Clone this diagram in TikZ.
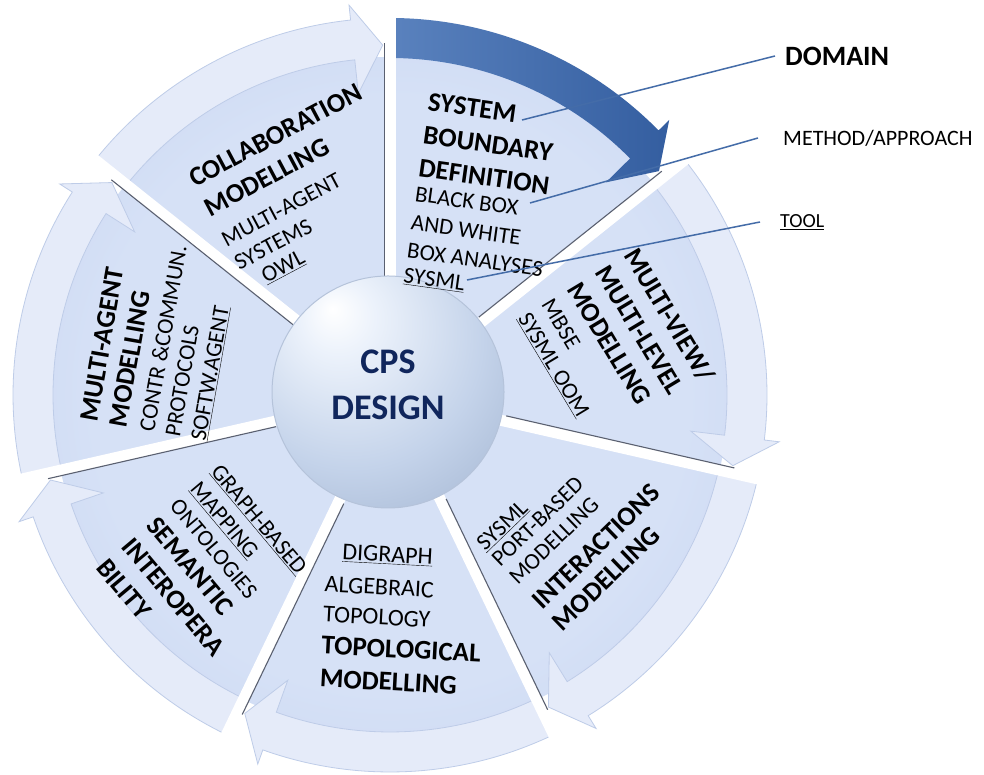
\documentclass[tikz,border=0pt]{standalone}
\usepackage{fontspec}
\setmainfont{Carlito}
\usetikzlibrary{calc}
\definecolor{wedgeA}{RGB}{214,225,246}
\definecolor{wedgeB}{RGB}{192,208,240}
\definecolor{wedgeC}{RGB}{174,193,234}
\definecolor{bandcol}{RGB}{229,235,249}
\definecolor{bandedge}{RGB}{190,204,232}
\definecolor{darkA}{RGB}{90,130,190}
\definecolor{darkB}{RGB}{52,94,160}
\definecolor{navy}{RGB}{16,38,92}
\definecolor{leader}{RGB}{68,108,168}
\definecolor{gapshadow}{RGB}{90,96,112}
\definecolor{sphA}{RGB}{236,242,251}
\definecolor{sphB}{RGB}{196,211,234}
\definecolor{sphC}{RGB}{162,180,208}
\definecolor{sphD}{RGB}{112,126,152}
\definecolor{sphE}{RGB}{78,90,116}
\pgfdeclareradialshading{wheelsh}{\pgfpoint{0bp}{0bp}}{color(0bp)=(wedgeA); color(22bp)=(wedgeA); color(40bp)=(wedgeB); color(50bp)=(wedgeC)}
\pgfdeclareradialshading{spheresh}{\pgfpoint{-12bp}{18bp}}{color(0bp)=(white); color(8bp)=(sphA); color(28bp)=(sphB); color(46bp)=(sphC); color(62bp)=(sphD); color(78bp)=(sphE)}
\tikzset{
  bd/.style={anchor=base west, inner sep=0pt, font=\fontsize{27}{32}\selectfont\bfseries},
  rg/.style={anchor=base west, inner sep=0pt, font=\fontsize{23}{28}\selectfont},
  rgl/.style={anchor=base west, inner sep=0pt, font=\fontsize{24}{29}\selectfont},
  bandpath/.style={fill=bandcol, draw=bandedge, line width=0.8},
  gapbar/.style={fill=white},
  shadowline/.style={draw=gapshadow, line width=1.1},
  leaderline/.style={draw=leader, line width=1.5}
}
\begin{document}
\begin{tikzpicture}[x=1pt,y=1pt]
\useasboundingbox (0,0) rectangle (984,775);
\fill[white] (0,0) rectangle (984,775);

% ---- wheel ----
\begin{scope}[shift={(390,380)}]
  \shade[shading=wheelsh] (0,0) circle[radius=338];
  \foreach \k in {0,2,3,4,5,6}{
    \pgfmathsetmacro\A{141.4286-51.4286*\k}
    \pgfmathsetmacro\B{\A-51.4286}
    \pgfmathsetmacro\Hb{\B+6}
    \pgfmathsetmacro\Ht{\B+1.2}
    \path[bandpath] (\A:337) -- (\A:377) arc[start angle=\A, end angle=\Hb, radius=377]
      -- (\Hb:392) -- (\Ht:350) -- (\Hb:303) -- (\Hb:337)
      arc[start angle=\Hb, end angle=\A, radius=337] -- cycle;
  }
  % highlighted arrow (system boundary)
  \shade[left color=darkA, right color=darkB] (90:337) -- (90:377)
      arc[start angle=90, end angle=44.5714, radius=377]
      -- (44.5714:392) -- (39.7714:350) -- (44.5714:303) -- (44.5714:337)
      arc[start angle=44.5714, end angle=90, radius=337] -- cycle;
\end{scope}

% gaps between wedges
\foreach \b in {90,38.5714,-12.8571,-64.2857,-115.7143,-167.1429,141.4286}{
  \begin{scope}[shift={(390,380)}, rotate=\b]
    \path[gapbar] (0,-5.5) rectangle (402,5.5);
    \path[shadowline] (118,5.5) -- (352,5.5);
  \end{scope}
}

% ---- central sphere ----
\shade[shading=spheresh] (388,383) circle[radius=116];
\draw[sphC!80!white, line width=1] (388,383) circle[radius=116];
\node[font=\fontsize{36}{46}\selectfont\bfseries, text=navy, align=center, inner sep=0pt] (cps) at (388,390) {CPS\\DESIGN};

% ---- collaboration ----
\begin{scope}[shift={(195,587)}, rotate=28, transform shape]
  \node[bd] (co1) at (0,0) {COLLABORATION};
  \node[bd] (co2) at (0,-33) {MODELLING};
  \node[rg] (co3) at (0,-67) {MULTI-AGENT};
  \node[rg] (co4) at (0,-94) {SYSTEMS};
  \node[rg] (co5) at (18,-118) {\underline{OWL}};
\end{scope}

% ---- system boundary ----
\begin{scope}[shift={(427,665)}, rotate=-8, transform shape]
  \node[bd] (sb1) at (0,0) {SYSTEM};
  \node[bd] (sb2) at (0,-34) {BOUNDARY};
  \node[bd] (sb3) at (0,-67) {DEFINITION};
  \node[rg] (sb4) at (0,-92) {BLACK BOX};
  \node[rg] (sb5) at (0,-121) {AND WHITE};
  \node[rg] (sb6) at (0,-149) {BOX ANALYSES};
  \node[rg] (sb7) at (0,-174) {\underline{SYSML}};
\end{scope}

% ---- multi-view ----
\begin{scope}[shift={(623,520)}, rotate=-59, transform shape]
  \node[bd] (mv1) at (0,0) {MULTI-VIEW/};
  \node[bd] (mv2) at (0,-33) {MULTI-LEVEL};
  \node[bd] (mv3) at (0,-66) {MODELLING};
  \node[rg] (mv4) at (0,-96) {MBSE};
  \node[rg] (mv5) at (0,-123) {\underline{SYSML OOM}};
\end{scope}

% ---- interactions ----
\begin{scope}[shift={(485,223)}, rotate=44, transform shape]
  \node[rg] (in1) at (0,0) {\underline{SYSML}};
  \node[rg] (in2) at (0,-22) {PORT-BASED};
  \node[rg] (in3) at (0,-47) {MODELLING};
  \node[bd] (in4) at (0,-82) {INTERACTIONS};
  \node[bd] (in5) at (0,-112) {MODELLING};
\end{scope}

% ---- topological ----
\begin{scope}[shift={(326,216)}, rotate=-3, transform shape]
  \node[rgl] (tp1) at (16,0) {\underline{DIGRAPH}};
  \node[rgl] (tp2) at (0,-33) {ALGEBRAIC};
  \node[rgl] (tp3) at (0,-63) {TOPOLOGY};
  \node[bd] (tp4) at (0,-95) {TOPOLOGICAL};
  \node[bd] (tp5) at (0,-128) {MODELLING};
\end{scope}

% ---- semantic interoperability ----
\begin{scope}[shift={(210,303)}, rotate=-50, transform shape]
  \node[rg] (se1) at (0,0) {\underline{GRAPH-BASED}};
  \node[rg] (se2) at (0,-27) {\underline{MAPPING}};
  \node[rg] (se3) at (0,-54) {ONTOLOGIES};
  \node[bd] (se4) at (0,-84) {SEMANTIC};
  \node[bd] (se5) at (0,-117) {INTEROPERA};
  \node[bd] (se6) at (0,-150) {BILITY};
\end{scope}

% ---- multi-agent ----
\begin{scope}[shift={(97,352)}, rotate=80, transform shape]
  \node[bd] (ma1) at (0,0) {MULTI-AGENT};
  \node[bd] (ma2) at (0,-30) {MODELLING};
  \node[rg] (ma3) at (0,-58) {CONTR \&COMMUN.};
  \node[rg] (ma4) at (0,-84) {PROTOCOLS};
  \node[rg] (ma5) at (0,-110) {\underline{SOFTW.AGENT}};
\end{scope}

% ---- legend labels ----
\node[anchor=west, inner xsep=10pt, inner ysep=0pt, font=\fontsize{28}{32}\selectfont\bfseries] (dom) at (775,719) {DOMAIN};
\node[anchor=west, inner xsep=25pt, inner ysep=0pt, font=\fontsize{22}{26}\selectfont] (meth) at (758,637) {METHOD/APPROACH};
\node[anchor=west, inner xsep=20pt, inner ysep=0pt, font=\fontsize{20}{24}\selectfont] (tool) at (760,553) {\underline{TOOL}};

\coordinate (domP) at (522,655);
\coordinate (methP) at (530,572);
\coordinate (toolP) at (467,495);
\draw[leaderline] (domP) -- (dom.west);
\draw[leaderline] (methP) -- (meth.west);
\draw[leaderline] (toolP) -- (tool.west);
\end{tikzpicture}
\end{document}
